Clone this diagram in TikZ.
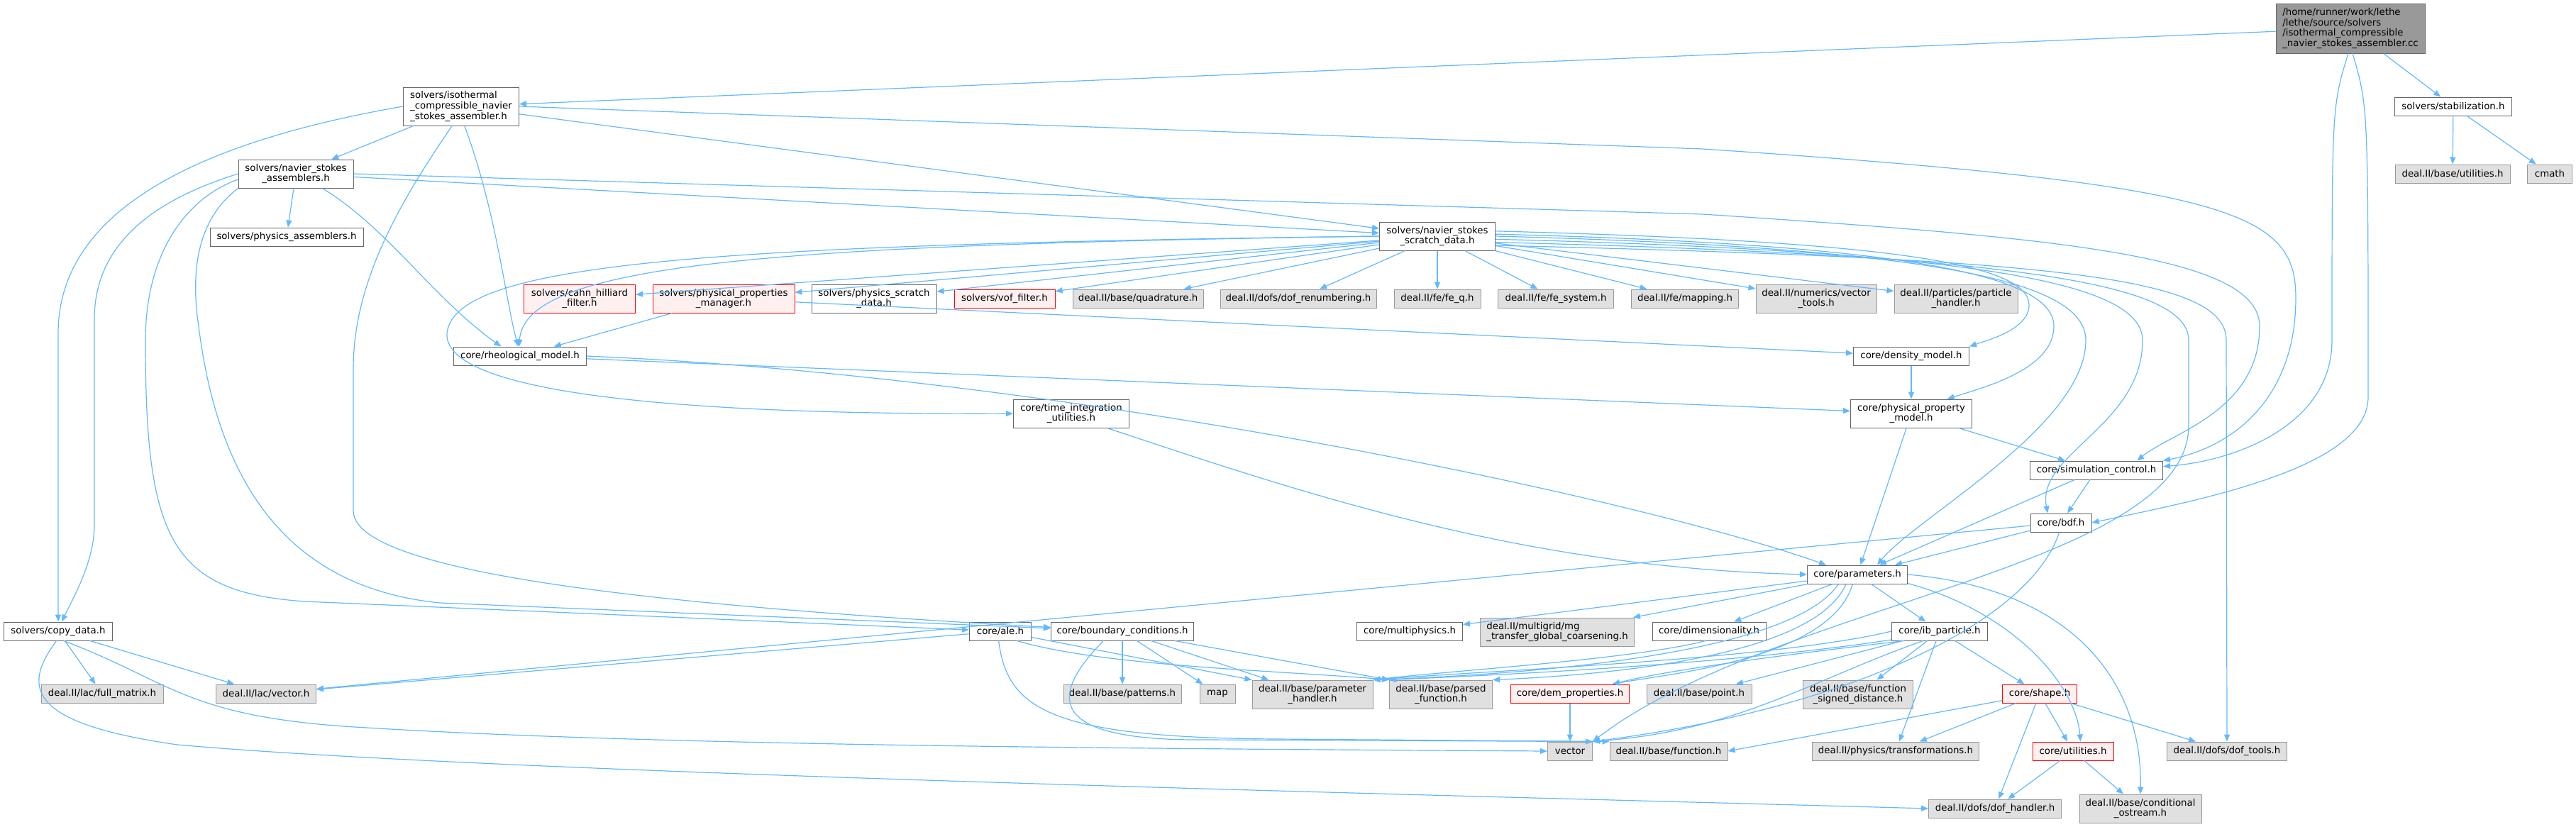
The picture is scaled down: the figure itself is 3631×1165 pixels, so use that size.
\documentclass[tikz,border=0pt]{standalone}
\usepackage{fontspec}
\setmainfont{DejaVu Sans}
\usetikzlibrary{arrows.meta}

\definecolor{edgeblue}{HTML}{63B8FF}
\definecolor{boxline}{HTML}{666666}
\definecolor{extfill}{HTML}{E0E0E0}
\definecolor{extline}{HTML}{999999}
\definecolor{redfill}{HTML}{FFF0F0}
\definecolor{redline}{HTML}{FF0000}
\definecolor{rootfill}{HTML}{999999}

\begin{document}
\begin{tikzpicture}[x=0.75pt, y=-0.75pt,
    >={Triangle[length=7.5pt,width=6pt]},
    box/.style={rectangle, draw, line width=0.75pt, inner sep=2pt, align=center,
      font=\fontsize{10}{11}\selectfont, minimum height=26*0.75pt},
    hdr/.style={box, draw=boxline, fill=white},
    ext/.style={box, draw=extline, fill=extfill},
    bad/.style={box, draw=redline, fill=redfill},
    root/.style={box, draw=boxline, fill=rootfill, align=left},
    wd/.style={minimum width=#1*0.75pt},
    ht/.style={minimum height=#1*0.75pt},
    inc/.style={->, draw=edgeblue, line width=0.9pt}]
  \useasboundingbox (0,0) rectangle (3631,1165);

  % top
  \node[root, wd=210, ht=70] (cc) at (3313,40) {/home/runner/work/lethe\\/lethe/source/solvers\\/isothermal\_compressible\\\_navier\_stokes\_assembler.cc};
  \node[hdr, wd=163, ht=54, align=left] (isoh) at (650,150) {solvers/isothermal\\\_compressible\_navier\\\_stokes\_assembler.h};
  \node[hdr, wd=165] (stab) at (3458,150) {solvers/stabilization.h};
  \node[ext, wd=162] (dutil) at (3457,245) {deal.II/base/utilities.h};
  \node[ext, wd=63] (cmath) at (3594,245) {cmath};
  \node[hdr, wd=162, ht=40] (nsa) at (417,245) {solvers/navier\_stokes\\\_assemblers.h};
  \node[hdr, wd=216] (physasm) at (404,334) {solvers/physics\_assemblers.h};
  \node[hdr, wd=163, ht=40] (nssd) at (2026,333) {solvers/navier\_stokes\\\_scratch\_data.h};

  % row under the scratch data
  \node[bad, wd=157, ht=40] (cahn) at (817,421) {solvers/cahn\_hilliard\\\_filter.h};
  \node[bad, wd=200, ht=40] (ppm) at (1020,421) {solvers/physical\_properties\\\_manager.h};
  \node[hdr, wd=176, ht=40] (psd) at (1232,421) {solvers/physics\_scratch\\\_data.h};
  \node[bad, wd=142] (vof) at (1416,421) {solvers/vof\_filter.h};
  \node[ext, wd=184] (quad) at (1604,421) {deal.II/base/quadrature.h};
  \node[ext, wd=220] (dofren) at (1830,421) {deal.II/dofs/dof\_renumbering.h};
  \node[ext, wd=122] (feq) at (2026,421) {deal.II/fe/fe\_q.h};
  \node[ext, wd=163] (fesys) at (2193,421) {deal.II/fe/fe\_system.h};
  \node[ext, wd=151] (mapping) at (2375,421) {deal.II/fe/mapping.h};
  \node[ext, wd=170, ht=40] (vtools) at (2560,421) {deal.II/numerics/vector\\\_tools.h};
  \node[ext, wd=174, ht=40] (phandler) at (2757,421) {deal.II/particles/particle\\\_handler.h};

  % core models
  \node[hdr, wd=187] (rheo) at (733,502) {core/rheological\_model.h};
  \node[hdr, wd=163, ht=40] (tiu) at (1510,583) {core/time\_integration\\\_utilities.h};
  \node[hdr, wd=163] (density) at (2694,502) {core/density\_model.h};
  \node[hdr, wd=171, ht=40] (ppmodel) at (2694,583) {core/physical\_property\\\_model.h};
  \node[hdr, wd=187] (simctl) at (2955,663) {core/simulation\_control.h};
  \node[hdr, wd=86] (bdf) at (2905,737) {core/bdf.h};
  \node[hdr, wd=141] (params) at (2618,810) {core/parameters.h};

  % lower rows
  \node[hdr, wd=153] (copy) at (82,890) {solvers/copy\_data.h};
  \node[ext, wd=172] (fullmat) at (144,978) {deal.II/lac/full\_matrix.h};
  \node[ext, wd=141] (lacvec) at (375,978) {deal.II/lac/vector.h};
  \node[hdr, wd=87] (ale) at (1410,890) {core/ale.h};
  \node[hdr, wd=201] (bc) at (1582,890) {core/boundary\_conditions.h};
  \node[hdr, wd=149] (multiph) at (1987,890) {core/multiphysics.h};
  \node[ext, wd=217, ht=40, align=left] (mg) at (2195,891) {deal.II/multigrid/mg\\\_transfer\_global\_coarsening.h};
  \node[hdr, wd=160] (dimen) at (2409,890) {core/dimensionality.h};
  \node[hdr, wd=135] (ibp) at (2734,890) {core/ib\_particle.h};
  \node[ext, wd=166] (patterns) at (1582,978) {deal.II/base/patterns.h};
  \node[ext, wd=50] (map) at (1716,978) {map};
  \node[ext, wd=170, ht=40] (parh) at (1850,979) {deal.II/base/parameter\\\_handler.h};
  \node[ext, wd=145, ht=40] (parsed) at (2031,979) {deal.II/base/parsed\\\_function.h};
  \node[bad, wd=167] (dem) at (2213,978) {core/dem\_properties.h};
  \node[ext, wd=148] (point) at (2395,978) {deal.II/base/point.h};
  \node[ext, wd=155, ht=40] (fsd) at (2619,979) {deal.II/base/function\\\_signed\_distance.h};
  \node[bad, wd=105] (shape) at (2875,978) {core/shape.h};
  \node[ext, wd=63] (vector) at (2213,1059) {vector};
  \node[ext, wd=166] (func) at (2352,1059) {deal.II/base/function.h};
  \node[ext, wd=235] (transf) at (2672,1059) {deal.II/physics/transformations.h};
  \node[bad, wd=114] (cutil) at (2922,1059) {core/utilities.h};
  \node[ext, wd=169] (doftools) at (3139,1059) {deal.II/dofs/dof\_tools.h};
  \node[ext, wd=187] (dofh) at (2812,1140) {deal.II/dofs/dof\_handler.h};
  \node[ext, wd=172, ht=40] (condos) at (3017,1140) {deal.II/base/conditional\\\_ostream.h};

  % includes of the .cc file
  \draw[inc] (cc) -- (isoh);
  \draw[inc] (cc) -- (stab);
  \draw[inc] (cc.-95) .. controls (3287,150) .. (3287,480) .. controls (3287,600) and (3150,650) .. ([yshift=4pt]simctl.east);
  \draw[inc] (cc.-85) .. controls (3338,150) .. (3338,560) .. controls (3338,660) and (3100,705) .. (bdf.east);
  \draw[inc] (stab) -- (dutil);
  \draw[inc] (stab) -- (cmath);

  % assembler header
  \draw[inc] (isoh) -- (nsa);
  \draw[inc] (isoh.west) .. controls (250,205) and (82,310) .. (82,470) -- (copy);
  \draw[inc] (isoh.-115) .. controls (560,290) and (498,400) .. (498,520) -- (498,720) .. controls (498,800) and (850,850) .. (bc);
  \draw[inc] (isoh.-80) .. controls (700,300) and (712,420) .. ([xshift=-2pt]rheo.north);
  \draw[inc] (isoh.east) -- (2400,210) .. controls (3150,260) and (3236,300) .. (3236,420) .. controls (3236,560) and (3150,630) .. (simctl.north east);
  \draw[inc] (isoh) -- (nssd);

  % navier stokes assemblers
  \draw[inc] (nsa) -- (physasm);
  \draw[inc] (nsa.west) .. controls (240,275) and (133,330) .. (133,450) -- (133,740) .. controls (133,790) and (105,840) .. (copy.70);
  \draw[inc] ([xshift=28pt]nsa.south) .. controls (545,320) and (610,420) .. ([xshift=-20pt]rheo.north);
  \draw[inc] (nsa) -- (nssd);
  \draw[inc] (nsa.east) -- (2400,302) .. controls (2900,335) and (3185,360) .. (3185,460) .. controls (3185,580) and (3060,610) .. ([xshift=43pt]simctl.north);
  \draw[inc] ([yshift=-6pt]nsa.west) .. controls (260,280) and (205,360) .. (205,480) .. controls (205,760) and (240,835) .. (430,848) -- (ale);
  \draw[inc] (nsa.south west) .. controls (290,300) and (265,360) .. (280,460) .. controls (310,700) and (420,830) .. (620,850) -- (bc);

  % scratch data
  \foreach \t in {cahn,ppm,psd,vof,quad,dofren,feq,fesys,mapping,vtools,phandler}
    \draw[inc] (nssd) -- (\t);
  \draw[inc] (nssd.west) .. controls (1100,345) and (740,370) .. ([xshift=-1pt]rheo.north);
  \draw[inc] (nssd.west) .. controls (1000,345) and (640,370) .. (630,470) .. controls (625,560) and (1000,585) .. (tiu.west);
  \draw[inc] (nssd.5) .. controls (2650,340) and (2860,370) .. (2860,430) .. controls (2860,465) and (2800,480) .. (density.north east);
  \draw[inc] (nssd.2) .. controls (2700,345) and (2895,390) .. (2895,460) .. controls (2895,520) and (2800,545) .. ([xshift=38pt]ppmodel.north);
  \draw[inc] (nssd.0) .. controls (2750,350) and (2940,400) .. (2940,480) .. controls (2940,600) and (2700,730) .. ([xshift=21pt]params.north);
  \draw[inc] (nssd.-3) .. controls (2800,355) and (3020,400) .. (3020,480) .. controls (3020,600) and (2870,640) .. ([xshift=-14pt]bdf.north);
  \draw[inc] (nssd.-6) .. controls (2850,360) and (3085,400) .. (3085,480) -- (3085,600) .. controls (3085,800) and (2500,850) .. (vector.north east);
  \draw[inc] (nssd.-9) .. controls (2900,365) and (3138,390) .. (3138,480) -- (doftools.north);

  % properties and models
  \draw[inc] (ppm) -- (rheo);
  \draw[inc] (ppm) -- (density);
  \draw[inc] (rheo) -- (ppmodel);
  \draw[inc] (rheo.east) .. controls (1500,530) and (2300,700) .. ([xshift=-33pt]params.north);
  \draw[inc] ([xshift=38pt]tiu.south) .. controls (1850,700) and (2150,800) .. (params.west);
  \draw[inc] (density) -- (ppmodel);
  \draw[inc] (ppmodel) -- (simctl);
  \draw[inc] (ppmodel) -- (params);
  \draw[inc] (simctl) -- (bdf);
  \draw[inc] (simctl) -- (params);
  \draw[inc] (bdf) -- (params);
  \draw[inc] (bdf) -- (lacvec);
  \draw[inc] (bdf.-100) .. controls (2860,880) and (2600,1000) .. (vector.north east);

  % parameters
  \draw[inc] (params) -- (multiph);
  \draw[inc] (params) -- (mg);
  \draw[inc] (params) -- (dimen);
  \draw[inc] (params) -- (ibp);
  \draw[inc] ([xshift=-20pt]params.south) .. controls (2540,900) and (2300,945) .. (parh.north east);
  \draw[inc] ([xshift=-12pt]params.south) .. controls (2560,920) and (2300,950) .. (parsed.north east);
  \draw[inc] ([xshift=-5pt]params.south) .. controls (2580,930) and (2350,950) .. ([xshift=45pt]dem.north);
  \draw[inc] (params.-10) .. controls (2830,860) and (2925,960) .. ([xshift=8pt]cutil.north);
  \draw[inc] (params.east) .. controls (2920,830) and (3020,960) .. (condos.north);

  % particles and shapes
  \draw[inc] (ibp) -- (point);
  \draw[inc] (ibp) -- (fsd);
  \draw[inc] (ibp) -- (shape);
  \draw[inc] (ibp) -- (transf);
  \draw[inc] (ibp.west) .. controls (2500,930) and (2100,945) .. (parh.north east);
  \draw[inc] (ibp.-170) .. controls (2450,935) and (2150,950) .. (parsed.north west);
  \draw[inc] (ibp.-165) .. controls (2500,925) and (2350,945) .. ([xshift=45pt]dem.north);
  \draw[inc] (ibp.-150) .. controls (2550,960) and (2450,1030) .. (vector.north east);
  \draw[inc] (dem) -- (vector);
  \draw[inc] (shape) -- (func.east);
  \draw[inc] (shape) -- (transf);
  \draw[inc] (shape) -- (cutil);
  \draw[inc] (shape) -- (doftools);
  \draw[inc] (shape) -- (dofh);
  \draw[inc] (cutil) -- (dofh);
  \draw[inc] (cutil) -- (condos);
  \draw[inc] (dimen.-110) .. controls (2300,930) and (2050,945) .. (parh.north east);

  % boundary conditions and ale
  \draw[inc] (bc) -- (patterns);
  \draw[inc] (bc) -- (map);
  \draw[inc] (bc) -- (parh);
  \draw[inc] (bc) -- (parsed.north west);
  \draw[inc] ([xshift=-20pt]bc.south) .. controls (1480,980) and (1470,1045) .. (1700,1043) -- (vector.north east);
  \draw[inc] (ale) -- (parh.north west);
  \draw[inc] (ale.-30) .. controls (1560,940) and (1800,945) .. (parsed.north west);
  \draw[inc] (ale) -- (lacvec);
  \draw[inc] (ale.-100) .. controls (1420,1000) and (1480,1040) .. (1800,1042) -- (func.north west);

  % copy data
  \draw[inc] (copy) -- (fullmat);
  \draw[inc] (copy) -- (lacvec);
  \draw[inc] (copy.-60) .. controls (240,960) and (260,1010) .. (500,1025) .. controls (900,1050) and (1500,1055) .. (vector.west);
  \draw[inc] (copy.-100) .. controls (30,970) and (40,1020) .. (250,1050) .. controls (700,1090) and (2000,1120) .. (dofh.west);
\end{tikzpicture}
\end{document}
